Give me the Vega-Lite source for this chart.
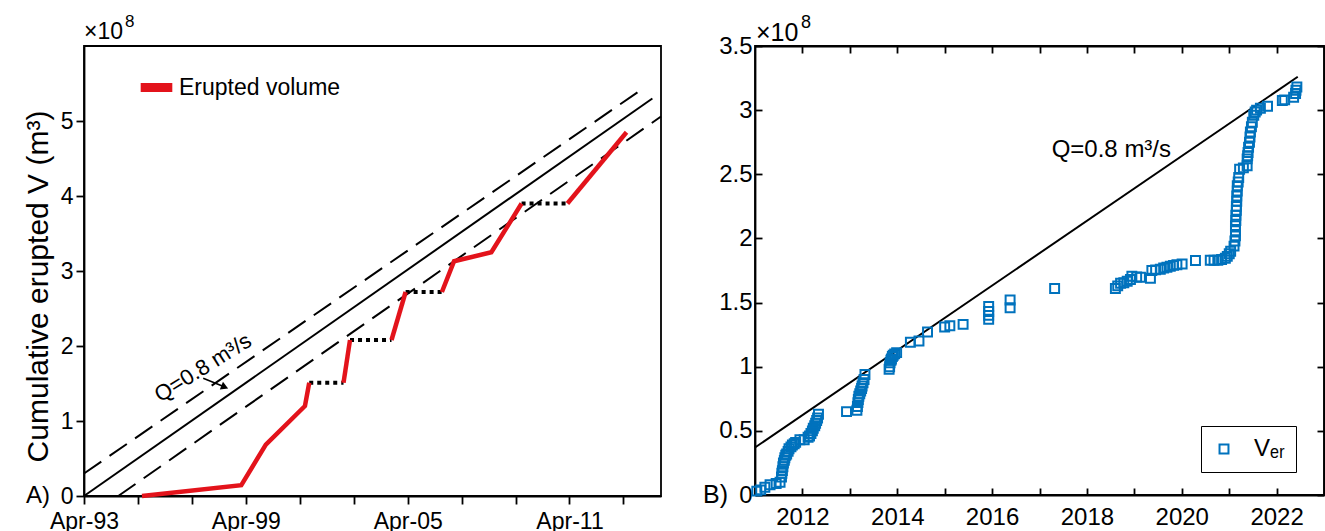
{
  "$schema": "https://vega.github.io/schema/vega-lite/v6.json",
  "background": "white",
  "padding": {"left": 22, "top": 12, "right": 2, "bottom": 2},
  "bounds": "flush",
  "spacing": 94,
  "resolve": {"scale": {"color": "independent"}, "legend": {"color": "independent"}},
  "datasets": {
    "solidA": [
      {"t": "1993-04-01", "v": 0},
      {"t": "2014-04-27", "v": 5.3}
    ],
    "dashedA": [
      {"t": "1993-04-01", "v": 0.3, "id": "upper"},
      {"t": "2014-01-01", "v": 5.44, "id": "upper"},
      {"t": "1994-07-09", "v": 0, "id": "lower"},
      {"t": "2014-08-22", "v": 5.06, "id": "lower"}
    ],
    "erupted": [
      {"t": "1995-05-26", "v": 0, "seg": 1},
      {"t": "1999-01-30", "v": 0.144, "seg": 1},
      {"t": "1999-12-28", "v": 0.685, "seg": 1},
      {"t": "2001-06-10", "v": 1.2, "seg": 1},
      {"t": "2001-08-07", "v": 1.51, "seg": 1},
      {"t": "2002-11-14", "v": 1.51, "seg": 2},
      {"t": "2003-02-10", "v": 2.08, "seg": 2},
      {"t": "2004-08-25", "v": 2.08, "seg": 3},
      {"t": "2005-03-04", "v": 2.72, "seg": 3},
      {"t": "2006-07-08", "v": 2.72, "seg": 4},
      {"t": "2006-12-20", "v": 3.13, "seg": 4},
      {"t": "2008-05-08", "v": 3.25, "seg": 4},
      {"t": "2009-06-21", "v": 3.9, "seg": 4},
      {"t": "2011-03-04", "v": 3.9, "seg": 5},
      {"t": "2013-05-12", "v": 4.85, "seg": 5}
    ],
    "gaps": [
      {"t": "2001-08-07", "v": 1.51, "seg": 1},
      {"t": "2002-11-14", "v": 1.51, "seg": 1},
      {"t": "2003-02-10", "v": 2.08, "seg": 2},
      {"t": "2004-08-25", "v": 2.08, "seg": 2},
      {"t": "2005-03-04", "v": 2.72, "seg": 3},
      {"t": "2006-07-08", "v": 2.72, "seg": 3},
      {"t": "2009-06-21", "v": 3.9, "seg": 4},
      {"t": "2011-03-04", "v": 3.9, "seg": 4}
    ],
    "solidB": [
      {"t": "2011-01-01", "v": 0.37},
      {"t": "2022-06-13", "v": 3.26}
    ],
    "ver": [
      {"t": "2011-01-15", "v": 0.03},
      {"t": "2011-02-14", "v": 0.04},
      {"t": "2011-03-18", "v": 0.06},
      {"t": "2011-04-27", "v": 0.08},
      {"t": "2011-06-13", "v": 0.09},
      {"t": "2011-07-13", "v": 0.10},
      {"t": "2011-07-24", "v": 0.14},
      {"t": "2011-07-27", "v": 0.17},
      {"t": "2011-07-31", "v": 0.19},
      {"t": "2011-08-04", "v": 0.22},
      {"t": "2011-08-08", "v": 0.25},
      {"t": "2011-08-15", "v": 0.27},
      {"t": "2011-08-19", "v": 0.29},
      {"t": "2011-08-26", "v": 0.31},
      {"t": "2011-09-02", "v": 0.32},
      {"t": "2011-09-13", "v": 0.34},
      {"t": "2011-09-20", "v": 0.36},
      {"t": "2011-10-05", "v": 0.375},
      {"t": "2011-10-16", "v": 0.39},
      {"t": "2011-10-30", "v": 0.40},
      {"t": "2011-11-10", "v": 0.41},
      {"t": "2011-12-13", "v": 0.43},
      {"t": "2012-01-15", "v": 0.43},
      {"t": "2012-02-14", "v": 0.45},
      {"t": "2012-02-25", "v": 0.46},
      {"t": "2012-03-07", "v": 0.48},
      {"t": "2012-03-18", "v": 0.50},
      {"t": "2012-03-25", "v": 0.52},
      {"t": "2012-04-05", "v": 0.54},
      {"t": "2012-04-12", "v": 0.56},
      {"t": "2012-04-20", "v": 0.58},
      {"t": "2012-04-27", "v": 0.60},
      {"t": "2012-05-04", "v": 0.63},
      {"t": "2012-12-06", "v": 0.65},
      {"t": "2013-02-24", "v": 0.66},
      {"t": "2013-02-28", "v": 0.69},
      {"t": "2013-03-04", "v": 0.72},
      {"t": "2013-03-07", "v": 0.745},
      {"t": "2013-03-11", "v": 0.77},
      {"t": "2013-03-18", "v": 0.79},
      {"t": "2013-03-25", "v": 0.81},
      {"t": "2013-04-01", "v": 0.83},
      {"t": "2013-04-05", "v": 0.85},
      {"t": "2013-04-12", "v": 0.875},
      {"t": "2013-04-20", "v": 0.90},
      {"t": "2013-04-27", "v": 0.94},
      {"t": "2013-10-30", "v": 0.98},
      {"t": "2013-11-03", "v": 1.00},
      {"t": "2013-11-06", "v": 1.03},
      {"t": "2013-11-13", "v": 1.05},
      {"t": "2013-11-17", "v": 1.06},
      {"t": "2013-11-24", "v": 1.08},
      {"t": "2013-12-01", "v": 1.09},
      {"t": "2013-12-12", "v": 1.10},
      {"t": "2013-12-27", "v": 1.11},
      {"t": "2014-04-12", "v": 1.19},
      {"t": "2014-06-17", "v": 1.20},
      {"t": "2014-08-22", "v": 1.27},
      {"t": "2015-01-01", "v": 1.31},
      {"t": "2015-02-10", "v": 1.32},
      {"t": "2015-05-23", "v": 1.33},
      {"t": "2015-12-06", "v": 1.37},
      {"t": "2015-12-06", "v": 1.40},
      {"t": "2015-12-06", "v": 1.43},
      {"t": "2015-12-06", "v": 1.47},
      {"t": "2016-05-19", "v": 1.46},
      {"t": "2016-05-19", "v": 1.52},
      {"t": "2017-04-27", "v": 1.61},
      {"t": "2018-08-08", "v": 1.61},
      {"t": "2018-08-26", "v": 1.63},
      {"t": "2018-09-17", "v": 1.65},
      {"t": "2018-10-12", "v": 1.655},
      {"t": "2018-11-07", "v": 1.666},
      {"t": "2018-12-02", "v": 1.68},
      {"t": "2018-12-13", "v": 1.705},
      {"t": "2019-01-19", "v": 1.70},
      {"t": "2019-02-17", "v": 1.697},
      {"t": "2019-05-05", "v": 1.69},
      {"t": "2019-05-16", "v": 1.75},
      {"t": "2019-06-14", "v": 1.755},
      {"t": "2019-07-20", "v": 1.76},
      {"t": "2019-08-15", "v": 1.77},
      {"t": "2019-09-09", "v": 1.775},
      {"t": "2019-10-05", "v": 1.783},
      {"t": "2019-10-30", "v": 1.79},
      {"t": "2019-11-25", "v": 1.795},
      {"t": "2020-01-04", "v": 1.80},
      {"t": "2020-04-16", "v": 1.828},
      {"t": "2020-08-08", "v": 1.83},
      {"t": "2020-09-06", "v": 1.83},
      {"t": "2020-10-05", "v": 1.83},
      {"t": "2020-11-03", "v": 1.835},
      {"t": "2020-12-02", "v": 1.845},
      {"t": "2020-12-17", "v": 1.86},
      {"t": "2021-01-01", "v": 1.88},
      {"t": "2021-01-12", "v": 1.90},
      {"t": "2021-02-07", "v": 1.94},
      {"t": "2021-02-14", "v": 1.98},
      {"t": "2021-02-18", "v": 2.02},
      {"t": "2021-02-18", "v": 2.06},
      {"t": "2021-02-18", "v": 2.10},
      {"t": "2021-02-21", "v": 2.14},
      {"t": "2021-02-21", "v": 2.18},
      {"t": "2021-02-25", "v": 2.22},
      {"t": "2021-02-25", "v": 2.25},
      {"t": "2021-02-28", "v": 2.29},
      {"t": "2021-02-28", "v": 2.33},
      {"t": "2021-03-04", "v": 2.37},
      {"t": "2021-03-04", "v": 2.41},
      {"t": "2021-03-11", "v": 2.44},
      {"t": "2021-03-15", "v": 2.475},
      {"t": "2021-03-22", "v": 2.54},
      {"t": "2021-04-20", "v": 2.55},
      {"t": "2021-05-19", "v": 2.566},
      {"t": "2021-05-19", "v": 2.62},
      {"t": "2021-05-23", "v": 2.645},
      {"t": "2021-05-26", "v": 2.67},
      {"t": "2021-05-30", "v": 2.71},
      {"t": "2021-06-06", "v": 2.75},
      {"t": "2021-06-10", "v": 2.79},
      {"t": "2021-06-13", "v": 2.83},
      {"t": "2021-06-21", "v": 2.87},
      {"t": "2021-06-28", "v": 2.905},
      {"t": "2021-07-09", "v": 2.96},
      {"t": "2021-07-20", "v": 2.985},
      {"t": "2021-07-31", "v": 3.00},
      {"t": "2021-08-29", "v": 3.015},
      {"t": "2021-10-23", "v": 3.03},
      {"t": "2022-02-14", "v": 3.075},
      {"t": "2022-03-04", "v": 3.08},
      {"t": "2022-05-12", "v": 3.10},
      {"t": "2022-05-27", "v": 3.13},
      {"t": "2022-05-30", "v": 3.155},
      {"t": "2022-06-06", "v": 3.18}
    ]
  },
  "config": {
    "font": "Liberation Sans",
    "view": {"stroke": "black", "strokeWidth": 1.8},
    "axis": {
      "domainColor": "black", "domainWidth": 1.8,
      "tickColor": "black", "tickWidth": 1.8,
      "labelColor": "black", "titleColor": "black",
      "grid": false, "labelFont": "Liberation Sans", "titleFont": "Liberation Sans",
      "titleFontWeight": "normal", "labelOverlap": false, "labelFlush": false
    },
    "legend": {"labelFont": "Liberation Sans", "labelColor": "black", "labelLimit": 400}
  },
  "hconcat": [
    {
      "width": 577,
      "height": 450,
      "resolve": {"axis": {"x": "independent", "y": "independent"}},
      "layer": [
        {
          "data": {"name": "solidA"},
          "mark": {"type": "line", "color": "black", "strokeWidth": 2},
          "encoding": {
            "x": {
              "field": "t", "type": "temporal",
              "scale": {"type": "utc", "domain": [{"year": 1993, "month": 4, "date": 1, "utc": true}, {"year": 2014, "month": 8, "date": 22, "utc": true}]},
              "axis": {
                "orient": "bottom", "title": null,
                "values": [
                  {"year": 1993, "month": 4, "date": 1, "utc": true},
                  {"year": 1995, "month": 4, "date": 1, "utc": true},
                  {"year": 1997, "month": 4, "date": 1, "utc": true},
                  {"year": 1999, "month": 4, "date": 1, "utc": true},
                  {"year": 2001, "month": 4, "date": 1, "utc": true},
                  {"year": 2003, "month": 4, "date": 1, "utc": true},
                  {"year": 2005, "month": 4, "date": 1, "utc": true},
                  {"year": 2007, "month": 4, "date": 1, "utc": true},
                  {"year": 2009, "month": 4, "date": 1, "utc": true},
                  {"year": 2011, "month": 4, "date": 1, "utc": true},
                  {"year": 2013, "month": 4, "date": 1, "utc": true}
                ],
                "labelExpr": "utcyear(datum.value) % 6 == 1 ? utcFormat(datum.value, '%b-%y') : ''",
                "tickSize": 8, "labelFontSize": 23, "labelPadding": 6
              }
            },
            "y": {
              "field": "v", "type": "quantitative",
              "scale": {"domain": [0, 6], "nice": false, "zero": true},
              "axis": {
                "values": [0, 1, 2, 3, 4, 5], "format": "d",
                "tickSize": 8, "labelFontSize": 23, "labelPadding": 3,
                "title": "Cumulative erupted V (m³)", "titleFontSize": 30,
                "titleX": -46, "titleY": 240, "titleAngle": 270, "titleBaseline": "middle", "titleAlign": "center"
              }
            }
          }
        },
        {
          "data": {"name": "dashedA"},
          "mark": {"type": "line", "color": "black", "strokeWidth": 2, "strokeDash": [21, 10]},
          "encoding": {
            "x": {"field": "t", "type": "temporal", "axis": null},
            "y": {"field": "v", "type": "quantitative", "axis": null},
            "detail": {"field": "id"}
          }
        },
        {
          "data": {"name": "gaps"},
          "mark": {"type": "line", "color": "black", "strokeWidth": 4, "strokeDash": [4, 4], "strokeCap": "butt"},
          "encoding": {
            "x": {"field": "t", "type": "temporal", "axis": null},
            "y": {"field": "v", "type": "quantitative", "axis": null},
            "detail": {"field": "seg"}
          }
        },
        {
          "data": {"name": "erupted"},
          "mark": {"type": "line", "strokeWidth": 4.5, "strokeCap": "butt"},
          "encoding": {
            "x": {"field": "t", "type": "temporal", "axis": null},
            "y": {"field": "v", "type": "quantitative", "axis": null},
            "detail": {"field": "seg"},
            "color": {
              "datum": "Erupted volume", "type": "nominal",
              "scale": {"range": ["#e3131b"]},
              "legend": {
                "orient": "none", "legendX": 52, "legendY": 21, "title": null,
                "symbolType": "stroke", "symbolStrokeWidth": 9, "symbolSize": 1000,
                "labelFontSize": 23, "labelOffset": 2, "padding": 0
              }
            }
          }
        },
        {
          "data": {"values": [{}]},
          "mark": {"type": "text", "text": "Q=0.8 m³/s", "fontSize": 22, "angle": 328, "align": "center", "baseline": "middle", "color": "black"},
          "encoding": {
            "x": {"datum": {"year": 1997, "month": 8, "date": 29, "utc": true}, "type": "temporal", "axis": null},
            "y": {"datum": 1.71, "type": "quantitative", "axis": null}
          }
        },
        {
          "data": {"values": [{}]},
          "mark": {"type": "rule", "color": "black", "strokeWidth": 1.6},
          "encoding": {
            "x": {"datum": {"year": 1997, "month": 9, "date": 1, "utc": true}, "type": "temporal", "axis": null},
            "y": {"datum": 1.569, "type": "quantitative", "axis": null},
            "x2": {"datum": {"year": 1998, "month": 6, "date": 20, "utc": true}},
            "y2": {"datum": 1.453}
          }
        },
        {
          "data": {"values": [{}]},
          "mark": {"type": "point", "shape": "triangle-right", "filled": true, "color": "black", "size": 70, "angle": 22, "opacity": 1},
          "encoding": {
            "x": {"datum": {"year": 1998, "month": 6, "date": 20, "utc": true}, "type": "temporal", "axis": null},
            "y": {"datum": 1.453, "type": "quantitative", "axis": null}
          }
        },
        {
          "data": {"values": [{}]},
          "mark": {"type": "text", "text": "×10", "fontSize": 23, "align": "left", "baseline": "alphabetic", "dy": -7, "color": "black"},
          "encoding": {
            "x": {"datum": {"year": 1993, "month": 4, "date": 1, "utc": true}, "type": "temporal", "axis": null},
            "y": {"datum": 6, "type": "quantitative", "axis": null}
          }
        },
        {
          "data": {"values": [{}]},
          "mark": {"type": "text", "text": "8", "fontSize": 17, "align": "left", "baseline": "alphabetic", "dy": -19, "dx": 41, "color": "black"},
          "encoding": {
            "x": {"datum": {"year": 1993, "month": 4, "date": 1, "utc": true}, "type": "temporal", "axis": null},
            "y": {"datum": 6, "type": "quantitative", "axis": null}
          }
        },
        {
          "data": {"values": [{}]},
          "mark": {"type": "text", "text": "A)", "fontSize": 24, "align": "right", "baseline": "middle", "dx": -34, "color": "black"},
          "encoding": {
            "x": {"datum": {"year": 1993, "month": 4, "date": 1, "utc": true}, "type": "temporal", "axis": null},
            "y": {"datum": 0, "type": "quantitative", "axis": null}
          }
        }
      ]
    },
    {
      "width": 569,
      "height": 449,
      "resolve": {"axis": {"x": "independent", "y": "independent"}},
      "layer": [
        {
          "data": {"name": "solidB"},
          "mark": {"type": "line", "color": "black", "strokeWidth": 2},
          "encoding": {
            "x": {
              "field": "t", "type": "temporal",
              "scale": {"type": "utc", "domain": [{"year": 2011, "month": 1, "date": 1, "utc": true}, {"year": 2023, "month": 1, "date": 1, "utc": true}]},
              "axis": {
                "orient": "bottom", "title": null,
                "values": [
                  {"year": 2012, "month": 1, "date": 1, "utc": true},
                  {"year": 2013, "month": 1, "date": 1, "utc": true},
                  {"year": 2014, "month": 1, "date": 1, "utc": true},
                  {"year": 2015, "month": 1, "date": 1, "utc": true},
                  {"year": 2016, "month": 1, "date": 1, "utc": true},
                  {"year": 2017, "month": 1, "date": 1, "utc": true},
                  {"year": 2018, "month": 1, "date": 1, "utc": true},
                  {"year": 2019, "month": 1, "date": 1, "utc": true},
                  {"year": 2020, "month": 1, "date": 1, "utc": true},
                  {"year": 2021, "month": 1, "date": 1, "utc": true},
                  {"year": 2022, "month": 1, "date": 1, "utc": true}
                ],
                "labelExpr": "utcyear(datum.value) % 2 == 0 ? utcFormat(datum.value, '%Y') : ''",
                "tickSize": -7, "labelFontSize": 24, "labelPadding": 17
              }
            },
            "y": {
              "field": "v", "type": "quantitative",
              "scale": {"domain": [0, 3.5], "nice": false},
              "axis": {
                "values": [0, 0.5, 1, 1.5, 2, 2.5, 3, 3.5], "format": "~g",
                "tickSize": -7, "labelFontSize": 24, "labelPadding": 10, "title": null
              }
            }
          }
        },
        {
          "data": {"name": "ver"},
          "mark": {"type": "point", "shape": "square", "filled": false, "size": 80, "strokeWidth": 2, "opacity": 1},
          "encoding": {
            "x": {"field": "t", "type": "temporal", "axis": null},
            "y": {"field": "v", "type": "quantitative", "axis": null},
            "color": {
              "datum": "Vₑᵣ", "type": "nominal",
              "scale": {"range": ["#0072BD"]},
              "legend": {
                "orient": "none", "legendX": 446, "legendY": 380, "title": null,
                "symbolType": "square", "symbolSize": 80, "symbolStrokeWidth": 2,
                "labelFontSize": 24, "labelOffset": 18, "padding": 11,
                "strokeColor": "black"
              }
            }
          }
        },
        {
          "data": {"values": [{}]},
          "mark": {"type": "text", "text": "Q=0.8 m³/s", "fontSize": 24, "align": "center", "baseline": "middle", "color": "black"},
          "encoding": {
            "x": {"datum": {"year": 2018, "month": 7, "date": 8, "utc": true}, "type": "temporal",
              "axis": {"orient": "top", "title": null, "labels": false, "tickSize": -7,
                "values": [
                  {"year": 2012, "month": 1, "date": 1, "utc": true},
                  {"year": 2013, "month": 1, "date": 1, "utc": true},
                  {"year": 2014, "month": 1, "date": 1, "utc": true},
                  {"year": 2015, "month": 1, "date": 1, "utc": true},
                  {"year": 2016, "month": 1, "date": 1, "utc": true},
                  {"year": 2017, "month": 1, "date": 1, "utc": true},
                  {"year": 2018, "month": 1, "date": 1, "utc": true},
                  {"year": 2019, "month": 1, "date": 1, "utc": true},
                  {"year": 2020, "month": 1, "date": 1, "utc": true},
                  {"year": 2021, "month": 1, "date": 1, "utc": true},
                  {"year": 2022, "month": 1, "date": 1, "utc": true}
                ]}},
            "y": {"datum": 2.69, "type": "quantitative",
              "axis": {"orient": "right", "title": null, "labels": false, "tickSize": -7,
                "values": [0, 0.5, 1, 1.5, 2, 2.5, 3, 3.5]}}
          }
        },
        {
          "data": {"values": [{}]},
          "mark": {"type": "text", "text": "×10", "fontSize": 25, "align": "left", "baseline": "alphabetic", "dy": -5, "dx": 1, "color": "black"},
          "encoding": {
            "x": {"datum": {"year": 2011, "month": 1, "date": 1, "utc": true}, "type": "temporal", "axis": null},
            "y": {"datum": 3.5, "type": "quantitative", "axis": null}
          }
        },
        {
          "data": {"values": [{}]},
          "mark": {"type": "text", "text": "8", "fontSize": 18, "align": "left", "baseline": "alphabetic", "dy": -18, "dx": 46, "color": "black"},
          "encoding": {
            "x": {"datum": {"year": 2011, "month": 1, "date": 1, "utc": true}, "type": "temporal", "axis": null},
            "y": {"datum": 3.5, "type": "quantitative", "axis": null}
          }
        },
        {
          "data": {"values": [{}]},
          "mark": {"type": "text", "text": "B)", "fontSize": 25, "align": "right", "baseline": "middle", "dx": -27, "color": "black"},
          "encoding": {
            "x": {"datum": {"year": 2011, "month": 1, "date": 1, "utc": true}, "type": "temporal", "axis": null},
            "y": {"datum": 0, "type": "quantitative", "axis": null}
          }
        }
      ]
    }
  ]
}
